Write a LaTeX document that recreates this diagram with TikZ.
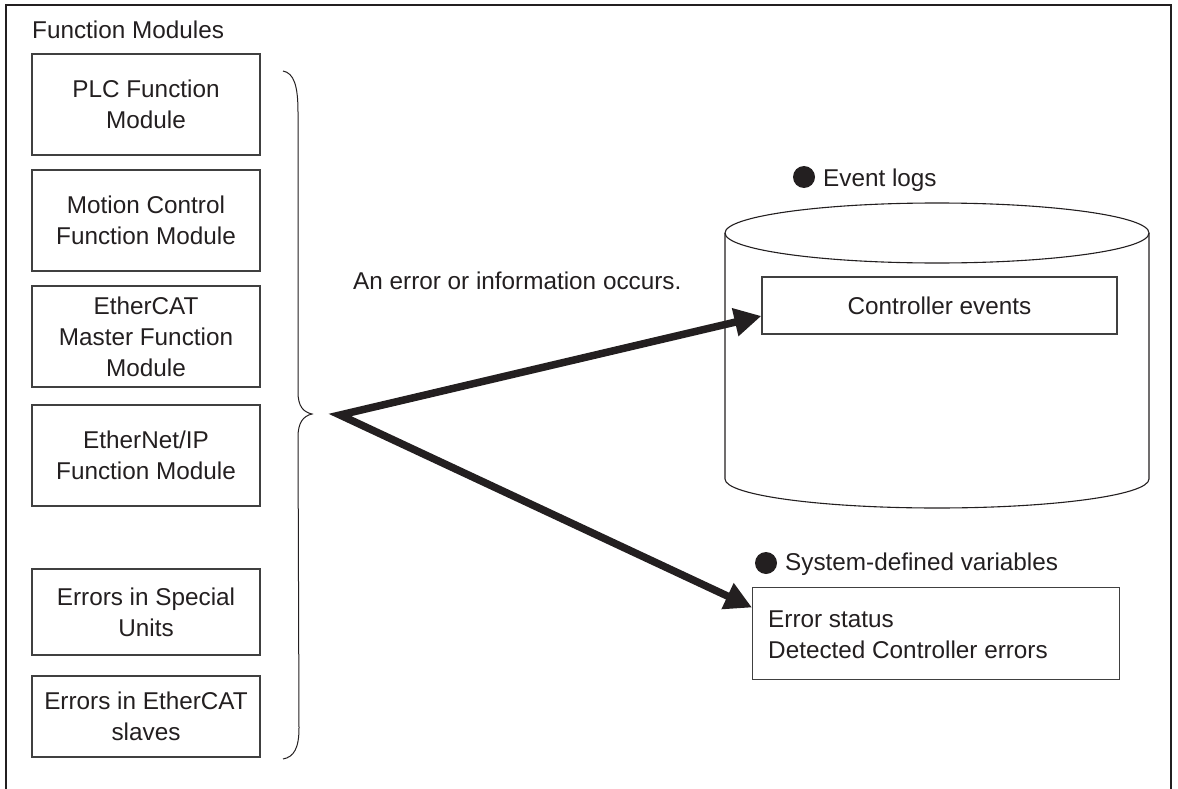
\documentclass[tikz,border=0pt]{standalone}
\usepackage{fontspec}
\setmainfont{Liberation Sans}
\usetikzlibrary{arrows.meta,calc}
\definecolor{ink}{HTML}{231F20}
\definecolor{boxline}{HTML}{404040}
\begin{document}
\begin{tikzpicture}[x=1pt,y=-1pt,
  every node/.style={text=ink, font=\fontsize{24.3}{31}\selectfont, inner sep=0pt},
  modbox/.style={draw=boxline, line width=1.2pt, minimum width=228pt, align=center},
  plainbox/.style={draw=boxline, line width=1.2pt},
  bigarrow/.style={draw=ink, line width=7.5pt, line join=miter,
    {Triangle[length=27pt,width=27pt]}-{Triangle[length=27pt,width=27pt]}},
  dot/.style={fill=ink, circle, minimum size=22pt, inner sep=0pt},
  thinline/.style={draw=ink, line width=1pt}
]
\useasboundingbox (0,0) rectangle (1178,789);
% outer frame
\draw[ink, line width=2pt] (6,5) rectangle (1171,800);

\node[anchor=base west] (title) at (32,39) {Function Modules};

\node[modbox, minimum height=101pt] (m1) at (146,104.5) {PLC Function\\Module};
\node[modbox, minimum height=101pt] (m2) at (146,220.5) {Motion Control\\Function Module};
\node[modbox, minimum height=101pt] (m3) at (146,336.5) {EtherCAT\\Master Function\\Module};
\node[modbox, minimum height=101pt] (m4) at (146,455.5) {EtherNet/IP\\Function Module};
\node[modbox, minimum height=86pt] (m5) at (146,612) {Errors in Special\\Units};
\node[modbox, minimum height=81pt] (m6) at (146,716.5) {Errors in EtherCAT\\slaves};

% brace
\draw[thinline] (283,71) .. controls (294,73) and (298,86) .. (298,112)
  -- (298,392) .. controls (298,406) and (303,412) .. (312,414)
  .. controls (303,416) and (298,423) .. (298,437)
  -- (299,728) .. controls (299,748) and (294,757) .. (283,759);

\node[anchor=base west] (occ) at (353,289) {An error or information occurs.};

% cylinder
\draw[ink, line width=1.1pt] (725,233) -- (725,479) arc[start angle=180, end angle=360, x radius=212pt, y radius=29pt] -- (1149,233);
\draw[ink, line width=1.1pt] (937,233) ellipse[x radius=212pt, y radius=30pt];

\node[dot] (d1) at (804,177) {};
\node[anchor=base west] (evl) at (823,186) {Event logs};

\node[plainbox, minimum width=355pt, minimum height=57pt] (ce) at (939.5,305.5) {Controller events};

\node[dot] (d2) at (766,563) {};
\node[anchor=base west] (sdv) at (785,570) {System-defined variables};

\node[plainbox, anchor=north west, minimum width=367pt, minimum height=92pt] (sv) at (752,587) {};
\node[anchor=base west, align=left] (svt) at (768,658) {Error status\\Detected Controller errors};

% arrows
\coordinate (src) at (340,415);
\draw[bigarrow] ($(ce.north west)!0.68!(ce.south west)$) -- (src) -- ($(sv.north west)!0.22!(sv.south west)$);
\end{tikzpicture}
\end{document}
